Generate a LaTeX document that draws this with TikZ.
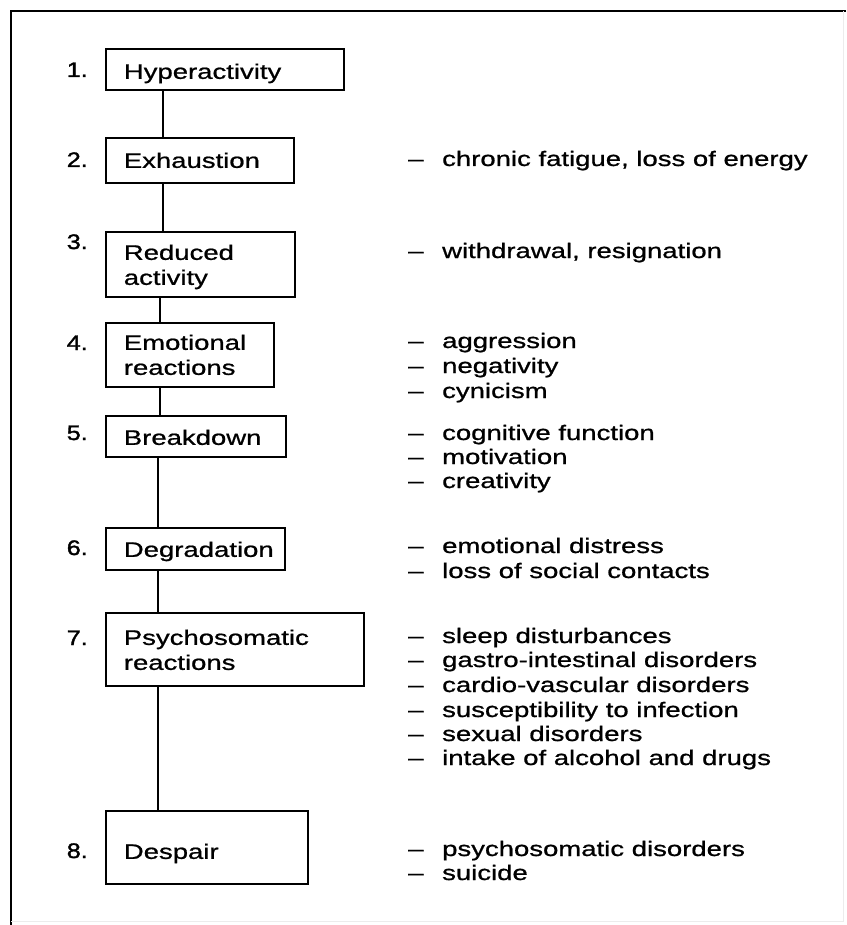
\documentclass[tikz,border=0pt]{standalone}
\usepackage{fontspec}
\setmainfont{Liberation Sans}[FakeStretch=1.31, FakeBold=0.9]
\newfontfamily\numfont{Liberation Sans}[FakeStretch=1.2, FakeBold=1.6]
\newcommand\itemdash{\makebox[34pt][l]{\textendash}}
\begin{document}
\begin{tikzpicture}[x=1pt,y=-1pt,
  txt/.style={font=\fontsize{21}{25}\selectfont, inner sep=0pt},
  stagebox/.style={draw, line width=1.7pt, font=\fontsize{21}{25}\selectfont,
    align=left, inner xsep=18pt, inner ysep=0pt, anchor=north west},
  num/.style={txt, font=\numfont\fontsize{21}{25}\selectfont, anchor=base east},
  itm/.style={txt, anchor=base west},
  link/.style={line width=1.7pt},
  frame/.style={line width=1.9pt}]
\useasboundingbox (0,0) rectangle (846,925);
% frame
\coordinate (ftl) at (11,11);
\coordinate (ftr) at (846,11);
\coordinate (fbl) at (11,925);
\draw[frame] (ftr) -- (ftl) -- (fbl);
\draw[gray!15, line width=0.8pt] (11,921) -- (843,921) -- (843,11);
% boxes
\node[stagebox, text width=202pt, text height=30pt, text depth=11pt] (b1) at (105,48) {Hyperactivity};
\node[stagebox, text width=152pt, text height=30pt, text depth=15pt] (b2) at (105,137) {Exhaustion};
\node[stagebox, text width=153pt, text height=28pt, text depth=37pt] (b3) at (105,231) {Reduced\\activity};
\node[stagebox, text width=132pt, text height=27pt, text depth=37pt] (b4) at (105,322) {Emotional\\reactions};
\node[stagebox, text width=144pt, text height=29pt, text depth=12pt] (b5) at (105,415) {Breakdown};
\node[stagebox, text width=143pt, text height=29pt, text depth=13pt] (b6) at (105,527) {Degradation};
\node[stagebox, text width=222pt, text height=32pt, text depth=41pt] (b7) at (105,612) {Psychosomatic\\reactions};
\node[stagebox, text width=166pt, text height=48pt, text depth=25pt] (b8) at (105,810) {Despair};
% numbers
\node[num] (n1) at (88,77) {1.};
\node[num] (n2) at (88,167) {2.};
\node[num] (n3) at (88,249) {3.};
\node[num] (n4) at (88,350) {4.};
\node[num] (n5) at (88,440) {5.};
\node[num] (n6) at (88,555) {6.};
\node[num] (n7) at (88,645) {7.};
\node[num] (n8) at (88,858) {8.};
% connectors
\draw[link] (b1.south -| 163,0) -- (b2.north -| 163,0);
\draw[link] (b2.south -| 163,0) -- (b3.north -| 163,0);
\draw[link] (b3.south -| 160,0) -- (b4.north -| 160,0);
\draw[link] (b4.south -| 160,0) -- (b5.north -| 160,0);
\draw[link] (b5.south -| 158,0) -- (b6.north -| 158,0);
\draw[link] (b6.south -| 158,0) -- (b7.north -| 158,0);
\draw[link] (b7.south -| 158,0) -- (b8.north -| 158,0);
% symptoms
\node[itm] (s2a) at (408,166) {\itemdash chronic fatigue, loss of energy};
\node[itm] (s3a) at (408,258) {\itemdash withdrawal, resignation};
\node[itm] (s4a) at (408,348) {\itemdash aggression};
\node[itm] (s4b) at (408,373) {\itemdash negativity};
\node[itm] (s4c) at (408,398) {\itemdash cynicism};
\node[itm] (s5a) at (408,440) {\itemdash cognitive function};
\node[itm] (s5b) at (408,464) {\itemdash motivation};
\node[itm] (s5c) at (408,488) {\itemdash creativity};
\node[itm] (s6a) at (408,553) {\itemdash emotional distress};
\node[itm] (s6b) at (408,578) {\itemdash loss of social contacts};
\node[itm] (s7a) at (408,643) {\itemdash sleep disturbances};
\node[itm] (s7b) at (408,667) {\itemdash gastro-intestinal disorders};
\node[itm] (s7c) at (408,692) {\itemdash cardio-vascular disorders};
\node[itm] (s7d) at (408,717) {\itemdash susceptibility to infection};
\node[itm] (s7e) at (408,741) {\itemdash sexual disorders};
\node[itm] (s7f) at (408,765) {\itemdash intake of alcohol and drugs};
\node[itm] (s8a) at (408,856) {\itemdash psychosomatic disorders};
\node[itm] (s8b) at (408,880) {\itemdash suicide};
\end{tikzpicture}
\end{document}
